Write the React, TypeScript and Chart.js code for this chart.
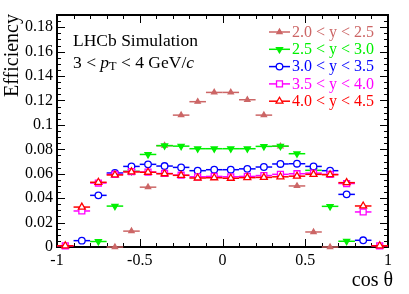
import React, { useEffect, useRef } from 'react';
import { Chart, registerables } from 'chart.js';

Chart.register(...registerables);

// ---------------- data ----------------
const cosTheta = [-0.95, -0.85, -0.75, -0.65, -0.55, -0.45, -0.35, -0.25, -0.15, -0.05,
  0.05, 0.15, 0.25, 0.35, 0.45, 0.55, 0.65, 0.75, 0.85, 0.95];
const binHalfWidth = 0.05;

const effY20to25 = [null, null, null, 0, 0.013, 0.049, 0.083, 0.108, 0.119, 0.1266,
  0.1266, 0.1206, 0.108, 0.0825, 0.05, 0.0123, 0, null, null, null];
const effY25to30 = [null, null, 0.0045, 0.0335, 0.062, 0.0758, 0.083, 0.0826, 0.0805, 0.0805,
  0.0805, 0.0805, 0.0824, 0.0826, 0.0764, 0.0628, 0.0333, 0.0047, null, null];
const effY30to35 = [null, 0.0052, 0.0423, 0.0606, 0.066, 0.0677, 0.0663, 0.0652, 0.0625, 0.0633,
  0.0633, 0.064, 0.0655, 0.068, 0.0682, 0.066, 0.0625, 0.0431, 0.0055, null];
const effY35to40 = [0.001, 0.0295, 0.0524, 0.0595, 0.0618, 0.0614, 0.0602, 0.0588, 0.0575, 0.0578,
  0.0575, 0.0578, 0.0585, 0.0595, 0.06, 0.0605, 0.0595, 0.052, 0.0287, 0.001];
const effY40to45 = [0.001, 0.0327, 0.053, 0.059, 0.0615, 0.0612, 0.06, 0.0587, 0.0565, 0.0567,
  0.0563, 0.0568, 0.057, 0.0575, 0.058, 0.0595, 0.0592, 0.0527, 0.0336, 0.001];

const seriesLabels = ['2.0 < y < 2.5', '2.5 < y < 3.0', '3.0 < y < 3.5', '3.5 < y < 4.0', '4.0 < y < 4.5'];
const seriesValues = [effY20to25, effY25to30, effY30to35, effY35to40, effY40to45];
const seriesColors = ['#cc6666', '#00f000', '#0000ff', '#ff00ff', '#ff0000'];
const seriesMarkers = ['triangle', 'triangle', 'circle', 'rect', 'triangle'];
const seriesRotation = [0, 180, 0, 0, 0];
const seriesFilled = [true, true, false, false, false];
const seriesRadius = [3, 3.5, 3.3, 4.2, 4];

const xTickValues = [-1, -0.5, 0, 0.5, 1];
const yMax = 0.19;
const headerLine1 = 'LHCb Simulation';
const xTitle = 'cos θ';
const yTitle = 'Efficiency';

const FONT = '"Liberation Serif", "Times New Roman", Times, serif';

function drawMarker(ctx: CanvasRenderingContext2D, i: number, x: number, y: number) {
  const r = seriesRadius[i];
  ctx.save();
  ctx.strokeStyle = seriesColors[i];
  ctx.fillStyle = seriesFilled[i] ? seriesColors[i] : '#ffffff';
  ctx.lineWidth = 1.3;
  ctx.beginPath();
  const m = seriesMarkers[i];
  if (m === 'circle') {
    ctx.arc(x, y, r, 0, Math.PI * 2);
  } else if (m === 'rect') {
    const s = Math.SQRT1_2 * r;
    ctx.rect(x - s, y - s, 2 * s, 2 * s);
  } else {
    let rad = (seriesRotation[i] * Math.PI) / 180;
    ctx.moveTo(x + Math.sin(rad) * r, y - Math.cos(rad) * r);
    rad += (2 * Math.PI) / 3;
    ctx.lineTo(x + Math.sin(rad) * r, y - Math.cos(rad) * r);
    rad += (2 * Math.PI) / 3;
    ctx.lineTo(x + Math.sin(rad) * r, y - Math.cos(rad) * r);
    ctx.closePath();
  }
  ctx.fill();
  ctx.stroke();
  ctx.restore();
}

const rootStylePlugin = {
  id: 'rootStyle',
  beforeDatasetsDraw(chart: any) {
    const { ctx, chartArea: a, scales } = chart;
    const xs = scales.x, ys = scales.y;
    ctx.save();
    ctx.strokeStyle = '#000';
    ctx.lineWidth = 1;
    for (let k = -10; k <= 10; k++) {
      const v = k / 10;
      const px = Math.round(xs.getPixelForValue(v)) + 0.5;
      const len = k % 5 === 0 ? 8 : 4;
      ctx.beginPath();
      ctx.moveTo(px, a.bottom); ctx.lineTo(px, a.bottom - len);
      ctx.moveTo(px, a.top); ctx.lineTo(px, a.top + len);
      ctx.stroke();
    }
    for (let k = 0; k <= 38; k++) {
      const v = k * 0.005;
      const py = Math.round(ys.getPixelForValue(v)) + 0.5;
      const len = k % 4 === 0 ? 8 : 4;
      ctx.beginPath();
      ctx.moveTo(a.left, py); ctx.lineTo(a.left + len, py);
      ctx.moveTo(a.right, py); ctx.lineTo(a.right - len, py);
      ctx.stroke();
    }
    ctx.lineWidth = 2;
    ctx.strokeRect(a.left, a.top, a.right - a.left, a.bottom - a.top);
    ctx.restore();
  },
  beforeDatasetDraw(chart: any, args: any) {
    const { ctx, scales } = chart;
    const ds = chart.data.datasets[args.index];
    ctx.save();
    ctx.strokeStyle = ds.borderColor;
    ctx.lineWidth = 1.5;
    for (const p of ds.data) {
      if (p.y === null || p.y === undefined) continue;
      const x0 = scales.x.getPixelForValue(p.x - binHalfWidth);
      const x1 = scales.x.getPixelForValue(p.x + binHalfWidth);
      const y = scales.y.getPixelForValue(p.y);
      ctx.beginPath();
      ctx.moveTo(x0, y); ctx.lineTo(x1, y);
      ctx.stroke();
    }
    ctx.restore();
  },
  afterDraw(chart: any) {
    const { ctx, chartArea: a } = chart;
    ctx.save();
    ctx.fillStyle = '#000';
    ctx.textBaseline = 'middle';
    ctx.save();
    ctx.font = `20px ${FONT}`;
    ctx.translate(13, a.top - 1);
    ctx.rotate(-Math.PI / 2);
    ctx.textAlign = 'right';
    ctx.fillText(yTitle, 0, 0);
    ctx.restore();
    ctx.font = `20px ${FONT}`;
    ctx.textAlign = 'right';
    ctx.fillText(xTitle, 393, 281);
    ctx.textAlign = 'left';
    const hs = 17.5;
    ctx.font = `${hs}px ${FONT}`;
    ctx.fillText(headerLine1, 73, 41);
    let x = 73;
    const y2 = 63;
    const piece = (t: string, font: string, dy = 0) => {
      ctx.font = font;
      ctx.fillText(t, x, y2 + dy);
      x += ctx.measureText(t).width;
    };
    piece('3 < ', `${hs}px ${FONT}`);
    piece('p', `italic ${hs}px ${FONT}`);
    piece('T', `${hs * 0.7}px ${FONT}`, 4);
    piece(' < 4 GeV/', `${hs}px ${FONT}`);
    piece('c', `italic ${hs}px ${FONT}`);
    ctx.font = `16px ${FONT}`;
    for (let i = 0; i < seriesLabels.length; i++) {
      const ly = 32 + i * 17.3;
      ctx.strokeStyle = seriesColors[i];
      ctx.lineWidth = 1.5;
      ctx.beginPath();
      ctx.moveTo(269, ly); ctx.lineTo(290, ly);
      ctx.stroke();
      drawMarker(ctx, i, 279.5, ly);
      ctx.fillStyle = seriesColors[i];
      ctx.textAlign = 'left';
      ctx.fillText(seriesLabels[i], 292, ly + 0.5);
    }
    ctx.restore();
  },
};

function fmt(v: number) {
  return String(parseFloat(Number(v).toFixed(3)));
}

export default function App() {
  const ref = useRef<HTMLCanvasElement | null>(null);
  useEffect(() => {
    if (!ref.current) return;
    const datasets = seriesValues.map((vals, i) => ({
      label: seriesLabels[i],
      data: vals.map((v, j) => ({ x: cosTheta[j], y: v })),
      borderColor: seriesColors[i],
      backgroundColor: seriesFilled[i] ? seriesColors[i] : '#ffffff',
      pointStyle: seriesMarkers[i],
      pointRotation: seriesRotation[i],
      pointRadius: seriesRadius[i],
      pointBorderWidth: 1.3,
      showLine: false,
      clip: false,
      order: seriesValues.length - i,
    }));
    const chart = new Chart(ref.current, {
      type: 'scatter',
      data: { datasets },
      plugins: [rootStylePlugin],
      options: {
        animation: false,
        responsive: false,
        devicePixelRatio: 1,
        layout: { padding: { left: 0, right: 21, top: 15, bottom: 0 } },
        plugins: { legend: { display: false }, tooltip: { enabled: false } },
        scales: {
          x: {
            type: 'linear',
            min: -1,
            max: 1,
            afterFit: (s: any) => { s.height = 47; },
            afterBuildTicks: (s: any) => { s.ticks = xTickValues.map((v) => ({ value: v })); },
            grid: { display: false, drawTicks: false },
            border: { display: false },
            ticks: {
              color: '#000',
              font: { family: FONT, size: 16 },
              padding: 4,
              maxRotation: 0,
              callback: (v: any) => fmt(v),
            },
          },
          y: {
            type: 'linear',
            min: 0,
            max: yMax,
            afterFit: (s: any) => { s.width = 57; },
            grid: { display: false, drawTicks: false },
            border: { display: false },
            ticks: {
              stepSize: 0.02,
              includeBounds: false,
              color: '#000',
              font: { family: FONT, size: 16 },
              padding: 4,
              callback: (v: any) => fmt(v),
            },
          },
        },
      },
    });
    return () => chart.destroy();
  }, []);
  return (
    <div style={{ position: 'fixed', left: 0, top: 0, width: 409, height: 294, background: '#fff' }}>
      <canvas ref={ref} width={409} height={294} style={{ width: 409, height: 294, display: 'block' }} />
    </div>
  );
}
